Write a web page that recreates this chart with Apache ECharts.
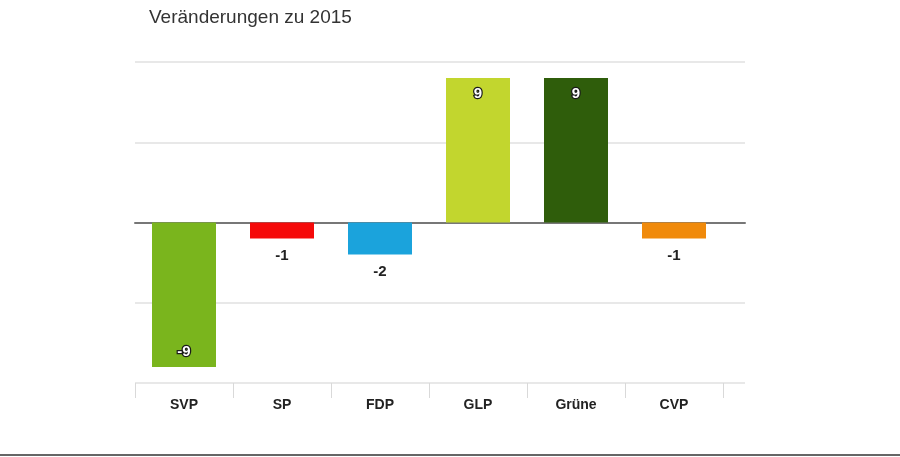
<!DOCTYPE html>
<html>
<head>
<meta charset="utf-8">
<script src="https://cdn.jsdelivr.net/npm/echarts@6/dist/echarts.min.js"></script>
<style>
html,body{margin:0;padding:0;background:#fff;}
#chart{width:900px;height:457px;}
</style>
</head>
<body>
<div id="chart"></div>
<script>
const categories = ['SVP', 'SP', 'FDP', 'GLP', 'Grüne', 'CVP'];
const values = [-9, -1, -2, 9, 9, -1];
const colors = ['#7ab51d', '#f50a0a', '#1ba3dc', '#c2d62e', '#2f5d0b', '#f08a0b'];
const yTicks = { min: -10, max: 10, interval: 5 };

const FONT = '"Liberation Sans", Arial, Helvetica, sans-serif';

const chart = echarts.init(document.getElementById('chart'), null, { renderer: 'canvas' });

function labelFor(v) {
  if (Math.abs(v) >= 5) {
    return {
      show: true,
      position: v > 0 ? 'insideTop' : 'insideBottom',
      distance: 8,
      color: '#fff',
      fontWeight: 'bold',
      fontSize: 15,
      fontFamily: FONT,
      textBorderColor: '#1a1a1a',
      textBorderWidth: 2.5
    };
  }
  return {
    show: true,
    position: 'bottom',
    distance: 10,
    color: '#222',
    fontWeight: 'bold',
    fontSize: 15,
    fontFamily: FONT
  };
}

const barData = values.map((v, i) => ({
  value: v,
  itemStyle: { color: colors[i] },
  label: labelFor(v)
}));

chart.setOption({
  animation: false,
  backgroundColor: '#fff',
  title: {
    text: 'Veränderungen zu 2015',
    left: 144,
    top: 3,
    textStyle: { fontFamily: FONT, fontSize: 19, fontWeight: 'normal', color: '#333' }
  },
  grid: [
    { left: 135, width: 610, top: 62, height: 321 },
    { left: 135, width: 588, top: 62, height: 321 }
  ],
  xAxis: [
    {
      gridIndex: 0, type: 'category', data: [''],
      axisLine: { show: true, onZero: true, lineStyle: { color: '#777', width: 2 } },
      axisTick: { show: false }, axisLabel: { show: false }, splitLine: { show: false }
    },
    {
      gridIndex: 1, type: 'category', data: categories,
      axisLine: { show: false, onZero: false },
      axisTick: { show: true, length: 15, lineStyle: { color: '#d9d9d9', width: 1 } },
      axisLabel: { margin: 15, fontFamily: FONT, fontSize: 14, fontWeight: 'bold', color: '#222' },
      splitLine: { show: false }
    }
  ],
  yAxis: [
    {
      gridIndex: 0, type: 'value', min: yTicks.min, max: yTicks.max, interval: yTicks.interval,
      axisLine: { show: false }, axisTick: { show: false }, axisLabel: { show: false },
      splitLine: { show: true, lineStyle: { color: '#e8e8e8', width: 2 } }
    },
    {
      gridIndex: 1, type: 'value', min: yTicks.min, max: yTicks.max, interval: yTicks.interval,
      axisLine: { show: false }, axisTick: { show: false }, axisLabel: { show: false },
      splitLine: { show: false }
    }
  ],
  series: [
    { type: 'bar', xAxisIndex: 0, yAxisIndex: 0, data: [], silent: true },
    {
      type: 'bar', xAxisIndex: 1, yAxisIndex: 1,
      barWidth: 64,
      data: barData,
      z: 3
    }
  ],
  graphic: [
    {
      type: 'line',
      shape: { x1: 0, y1: 455, x2: 900, y2: 455 },
      style: { stroke: '#666', lineWidth: 2 },
      z: 10
    }
  ]
});
</script>
</body>
</html>
